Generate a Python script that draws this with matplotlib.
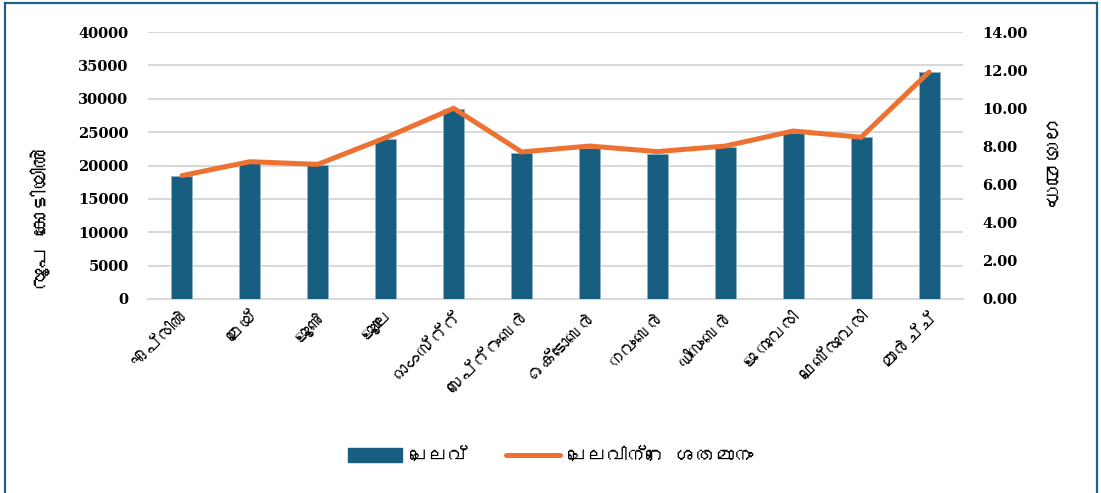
import matplotlib
matplotlib.use('Agg')
import matplotlib.pyplot as plt
from matplotlib import font_manager
from matplotlib.ft2font import FT2Font
from matplotlib.lines import Line2D
from matplotlib.patches import Patch

# ---------------- data ----------------
months = ['ഏപ്രിൽ', 'മെയ്', 'ജൂൺ', 'ജൂലൈ', 'ഓഗസ്റ്റ്', 'സെപ്റ്റംബർ',
          'ഒക്ടോബർ', 'നവംബർ', 'ഡിസംബർ', 'ജനുവരി', 'ഫെബ്രുവരി', 'മാർച്ച്']
expenditure = [18500, 20350, 20100, 24000, 28500, 21900,
               22600, 21700, 22700, 24850, 24250, 34000]
percent = [6.47, 7.20, 7.06, 8.46, 10.00, 7.71,
           8.02, 7.73, 8.02, 8.81, 8.48, 11.90]
left_ticks = [0, 5000, 10000, 15000, 20000, 25000, 30000, 35000, 40000]
right_ticks = [0, 2, 4, 6, 8, 10, 12, 14]
bar_label = 'ചെലവ്'
line_label = 'ചെലവിന്റെ ശതമാനം'
left_ylabel = 'രൂപ കോടിയിൽ'
right_ylabel = 'ശതമാനം'


# ---------------- fonts ----------------
def find_font(ch):
    for f in font_manager.fontManager.ttflist:
        try:
            if ord(ch) in FT2Font(f.fname).get_charmap():
                return f.name
        except Exception:
            pass
    return None


ml = find_font('ച')
ml_family = [ml, 'DejaVu Sans'] if ml else ['DejaVu Sans']
num_family = ['DejaVu Serif']

W, H = 1101, 493
fig = plt.figure(figsize=(W / 100, H / 100), dpi=100)
fig.patch.set_facecolor('white')

x0, x1 = 148, 963
y_top, y_bot = 32, 299
ax = fig.add_axes([x0 / W, 1 - y_bot / H, (x1 - x0) / W, (y_bot - y_top) / H])
ax2 = ax.twinx()

bar_color = '#175E80'
line_color = '#ED7232'
grid_color = '#D9D9D9'

xs = list(range(len(months)))
ax.bar(xs, expenditure, width=0.31, color=bar_color, edgecolor='#8FB3C6',
       linewidth=0.7, zorder=3)
ax.set_xlim(-0.5, len(months) - 0.5)
ax.set_ylim(0, 40000)
ax.set_yticks(left_ticks)
ax.yaxis.grid(True, color=grid_color, linewidth=1.5, zorder=0)
ax.set_axisbelow(True)
for s in ax.spines.values():
    s.set_visible(False)
ax.spines['bottom'].set_visible(True)
ax.spines['bottom'].set_color(grid_color)
ax.spines['bottom'].set_linewidth(1.5)
ax.tick_params(axis='both', length=0)
ax.tick_params(axis='y', pad=14)
for lbl in ax.get_yticklabels():
    lbl.set_fontfamily(num_family)
    lbl.set_fontweight('heavy')
    lbl.set_fontsize(10.5)

ax.set_xticks(xs)
ax.set_xticklabels(months, rotation=45, ha='right', rotation_mode='anchor',
                   family=ml_family, fontsize=13)
ax.tick_params(axis='x', pad=7)

ax2.plot(xs, percent, color=line_color, linewidth=3.6,
         solid_capstyle='round', solid_joinstyle='miter', zorder=4)
ax2.set_ylim(0, 14)
ax2.set_yticks(right_ticks)
ax2.set_yticklabels([f'{v:.2f}' for v in right_ticks])
for s in ax2.spines.values():
    s.set_visible(False)
ax2.tick_params(axis='y', length=0, pad=14)
for lbl in ax2.get_yticklabels():
    lbl.set_fontfamily(num_family)
    lbl.set_fontweight('heavy')
    lbl.set_fontsize(10.5)

fig.text(42 / W, 1 - 218 / H, left_ylabel, rotation=90, ha='center', va='center',
         family=ml_family, fontsize=16, fontweight='bold')
fig.text(1047 / W, 1 - 165 / H, right_ylabel, rotation=270, ha='center', va='center',
         family=ml_family, fontsize=16, fontweight='bold')

handles = [Patch(facecolor=bar_color, edgecolor=bar_color),
           Line2D([0], [0], color=line_color, linewidth=3.6, solid_capstyle='round')]
fig.legend(handles, [bar_label, line_label], loc='center',
           bbox_to_anchor=(0.5, 1 - 455 / H), ncol=2, frameon=False,
           handlelength=2.8, handleheight=0.75, handletextpad=0.4,
           columnspacing=1.9,
           prop={'family': ml_family, 'weight': 'bold', 'size': 14})

# frame (left, top, right)
bc = '#1F6287'
fig.add_artist(Line2D([5 / W, 5 / W], [0, 1 - 3 / H], color=bc, linewidth=1.6,
                      transform=fig.transFigure))
fig.add_artist(Line2D([5 / W, 1097 / W], [1 - 3 / H, 1 - 3 / H], color=bc,
                      linewidth=1.6, transform=fig.transFigure))
fig.add_artist(Line2D([1097 / W, 1097 / W], [0, 1 - 3 / H], color=bc, linewidth=1.6,
                      transform=fig.transFigure))

fig.savefig('out.png', dpi=100, facecolor='white')
